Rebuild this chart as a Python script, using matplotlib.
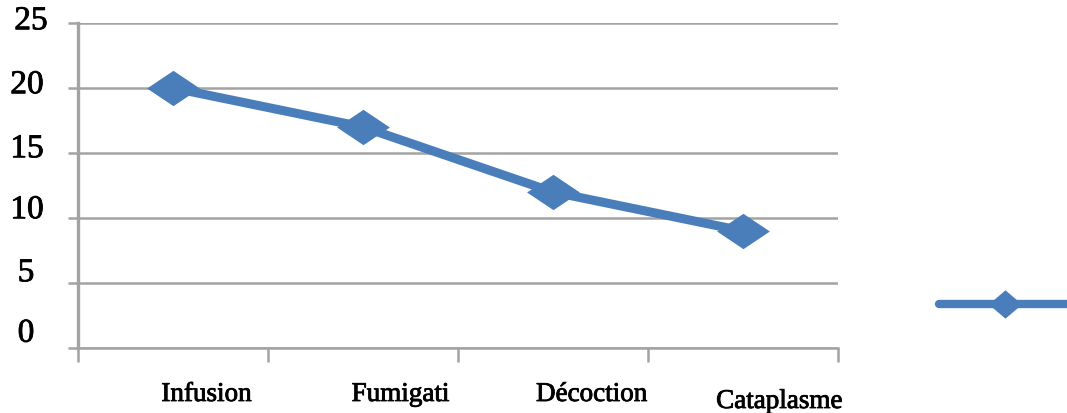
import matplotlib
matplotlib.use("Agg")
import matplotlib.pyplot as plt
import matplotlib.patheffects as pe
import numpy as np
from matplotlib.path import Path
from matplotlib.lines import Line2D
from matplotlib.transforms import ScaledTranslation, blended_transform_factory

# Data
categories = ["Infusion", "Fumigati", "Décoction", "Cataplasme"]
values = [20, 17, 12, 9]
y_ticks = [0, 5, 10, 15, 20, 25]

# Style
BLUE = "#4a7ebb"
GRID = "#a3a3a3"
FONT = ["Liberation Serif", "DejaVu Serif"]
DPI = 100
W, H = 1067, 414
TEXT_FX = [pe.Stroke(linewidth=0.6, foreground="black"), pe.Normal()]

plt.rcParams["font.family"] = FONT


def diamond(aspect):
    verts = [(-1, 0), (0, aspect), (1, 0), (0, -aspect), (-1, 0)]
    codes = [Path.MOVETO, Path.LINETO, Path.LINETO, Path.LINETO, Path.CLOSEPOLY]
    return Path(verts, codes)


def px(dx, dy):
    return ScaledTranslation(dx / DPI, dy / DPI, fig.dpi_scale_trans)


fig = plt.figure(figsize=(W / DPI, H / DPI), dpi=DPI)
ax = fig.add_axes([78 / W, 65 / H, 760 / W, 325 / H])

x = np.arange(len(categories))
ax.plot(x, values, color=BLUE, lw=6.5, marker=diamond(0.67), markersize=38,
        markeredgewidth=0, solid_capstyle="round", solid_joinstyle="round",
        zorder=3, clip_on=False)

ax.set_xlim(-0.5, len(categories) - 0.5)
ax.set_ylim(y_ticks[0], y_ticks[-1])

# Horizontal grid with short outward ticks on the value axis
ax.set_yticks(y_ticks)
ax.yaxis.grid(True, color=GRID, lw=1.8)
ax.set_axisbelow(True)
ax.tick_params(axis="y", length=7.2, width=1.8, color=GRID, labelleft=False)

# Category boundary ticks
ax.set_xticks(np.arange(-0.5, len(categories), 1.0))
ax.tick_params(axis="x", length=10, width=1.8, color=GRID, labelbottom=False)

for side in ("top", "right"):
    ax.spines[side].set_visible(False)
ax.spines["bottom"].set_color(GRID)
ax.spines["bottom"].set_linewidth(1.8)
ax.spines["left"].set_color(GRID)
ax.spines["left"].set_linewidth(2.4)

# Value labels
ytrans = blended_transform_factory(ax.transAxes, ax.transData)
y_nudge = {0: (-1, 14.5), 5: (-1, 10), 10: (0, 8), 15: (0, 4), 20: (0, 3), 25: (4, 2)}
for v in y_ticks:
    dx, dy = y_nudge[v]
    ax.text(0, v, str(v), transform=ytrans + px(-51 + dx, dy),
            ha="center", va="center", fontsize=24, color="black",
            path_effects=TEXT_FX)

# Category labels
xtrans = blended_transform_factory(ax.transData, ax.transAxes)
x_nudge = [(33.5, -53), (37.5, -53), (38.5, -53), (36.5, -60)]
for i, name in enumerate(categories):
    dx, dy = x_nudge[i]
    ax.text(i, 0, name, transform=xtrans + px(dx, dy),
            ha="center", va="baseline", fontsize=19.5, color="black",
            path_effects=TEXT_FX)

# Series key on the right
key = Line2D([], [], color=BLUE, lw=6, marker=diamond(0.85), markersize=24,
             markeredgewidth=0, solid_capstyle="round")
fig.legend(handles=[key], labels=[""], loc="center left",
           bbox_to_anchor=(939 / W, (H - 306) / H), frameon=False,
           borderpad=0, borderaxespad=0, handletextpad=0,
           handlelength=9.5, fontsize=10, numpoints=1)

fig.savefig("out.png", dpi=DPI)
